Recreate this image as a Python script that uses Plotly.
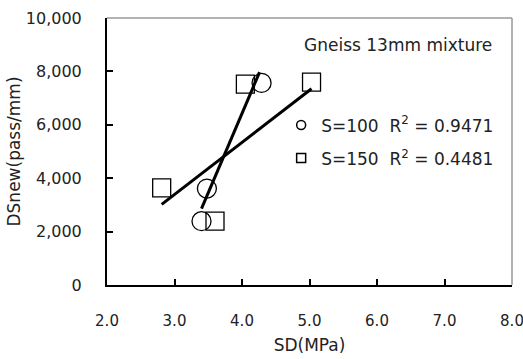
import plotly.graph_objects as go

# data
s100_x = [3.40, 3.48, 4.29]
s100_y = [2390, 3610, 7570]
s150_x = [2.81, 3.60, 4.05, 5.03]
s150_y = [3640, 2390, 7520, 7600]
# trend lines (as drawn in the reference)
fit100_x = [3.40, 4.26]
fit100_y = [2860, 7970]
fit150_x = [2.81, 5.03]
fit150_y = [3020, 7350]
label100 = "S=100  R<sup>2</sup> = 0.9471"
label150 = "S=150  R<sup>2</sup> = 0.4481"
title_text = "Gneiss 13mm mixture"
x_ticks = [2, 3, 4, 5, 6, 7, 8]
y_ticks = [0, 2000, 4000, 6000, 8000, 10000]

FONT = "DejaVu Sans"
TXT = "#222222"
fig = go.Figure()

fig.add_trace(go.Scatter(x=fit100_x, y=fit100_y, mode="lines",
                         line=dict(color="black", width=3), showlegend=False))
fig.add_trace(go.Scatter(x=fit150_x, y=fit150_y, mode="lines",
                         line=dict(color="black", width=3), showlegend=False))
fig.add_trace(go.Scatter(x=s100_x, y=s100_y, mode="markers", showlegend=False,
                         marker=dict(symbol="circle-open", size=19, color="black",
                                     line=dict(width=1.3, color="black"))))
fig.add_trace(go.Scatter(x=s150_x, y=s150_y, mode="markers", showlegend=False,
                         marker=dict(symbol="square-open", size=18, color="black",
                                     line=dict(width=1.3, color="black"))))
# legend entries
fig.add_trace(go.Scatter(x=[None], y=[None], mode="markers", name=label100, legendgroup="a",
                         marker=dict(symbol="circle-open", size=9, color="black",
                                     line=dict(width=1.5, color="black"))))
fig.add_trace(go.Scatter(x=[None], y=[None], mode="markers", name=label150, legendgroup="b",
                         marker=dict(symbol="square-open", size=9, color="black",
                                     line=dict(width=1.5, color="black"))))

fig.add_annotation(text=title_text, xref="paper", yref="paper", x=0.955, y=0.898,
                   xanchor="right", yanchor="middle", showarrow=False,
                   font=dict(family=FONT, size=17, color=TXT))

# gray top/right frame lines
fig.add_shape(type="line", xref="paper", yref="paper", x0=0, x1=1, y0=1, y1=1,
              line=dict(color="#999999", width=1.5))
fig.add_shape(type="line", xref="paper", yref="paper", x0=1, x1=1, y0=0, y1=1,
              line=dict(color="#999999", width=1.5))

fig.update_layout(
    width=523, height=359,
    margin=dict(l=107, r=11, t=18, b=74),
    plot_bgcolor="white", paper_bgcolor="white",
    font=dict(family=FONT, size=16, color=TXT),
    legend=dict(x=0.43, y=0.665, xanchor="left", yanchor="top",
                bgcolor="rgba(0,0,0,0)", tracegroupgap=8,
                font=dict(family=FONT, size=17, color=TXT)),
    xaxis=dict(range=[2, 8], tickvals=x_ticks, tickformat=".1f",
               automargin=False,
               showgrid=False, zeroline=False, showline=True,
               linecolor="black", linewidth=2, ticks="inside", ticklen=6,
               tickcolor="black", tickwidth=1.5, ticklabelstandoff=21,
               ticklabeloverflow="allow",
               tickfont=dict(family=FONT, size=15, color=TXT),
               title=dict(text="SD(MPa)", standoff=10,
                          font=dict(family=FONT, size=17, color=TXT))),
    yaxis=dict(range=[0, 10000], tickvals=y_ticks, tickformat=",d",
               automargin=False,
               showgrid=False, zeroline=False, showline=True,
               linecolor="black", linewidth=2, ticks="inside", ticklen=6,
               tickcolor="black", tickwidth=1.5, ticklabelstandoff=20,
               tickfont=dict(family=FONT, size=16, color=TXT),
               title=dict(text="DSnew(pass/mm)", standoff=1,
                          font=dict(family=FONT, size=17, color=TXT))),
)

fig.write_html("out.html")
